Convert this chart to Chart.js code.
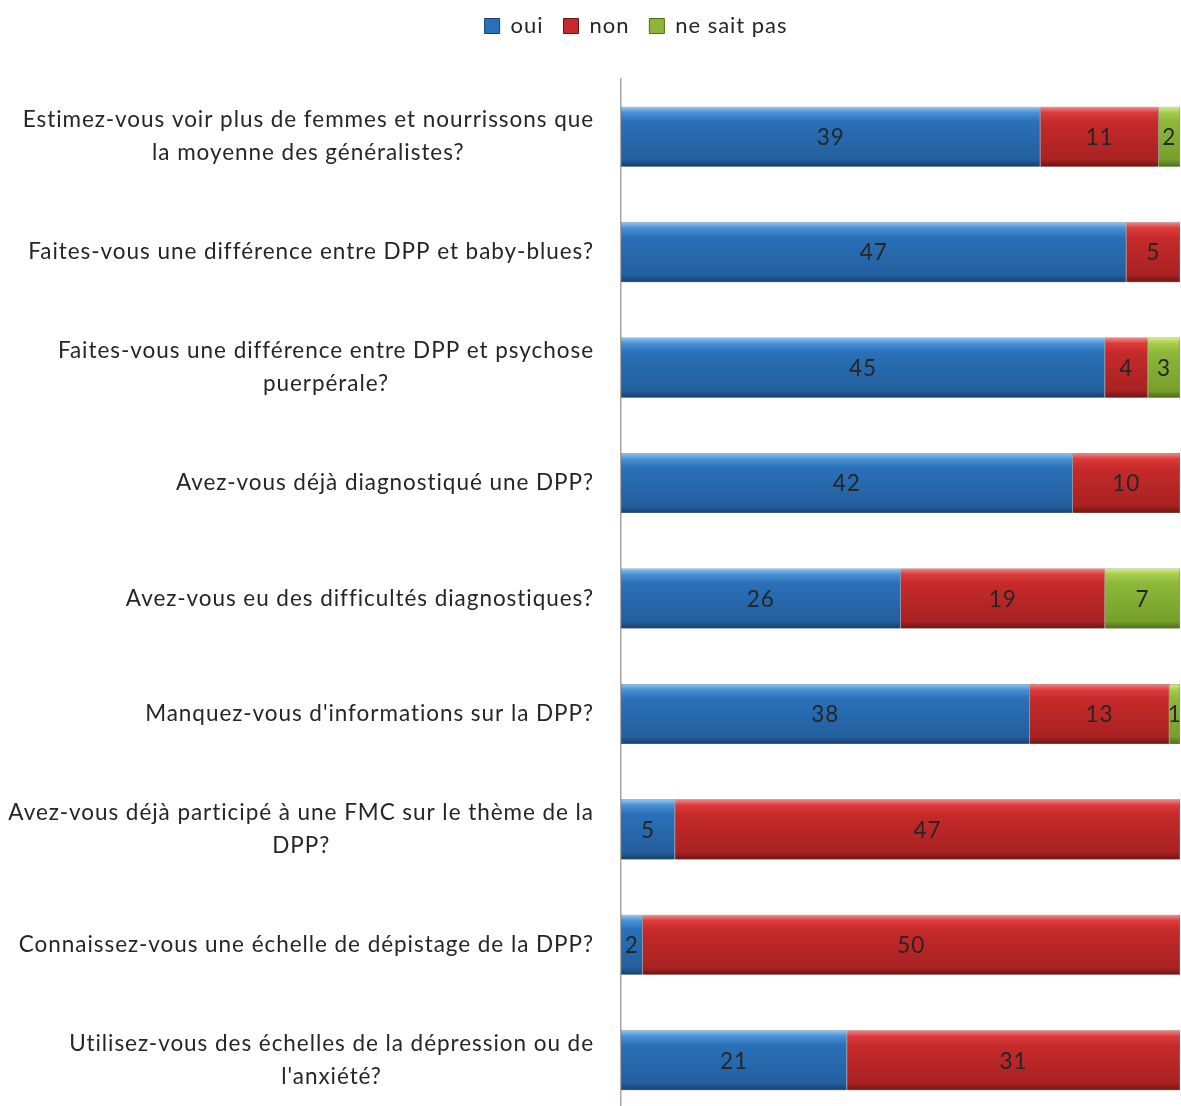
<!DOCTYPE html>
<html>
<head>
<meta charset="utf-8">
<script src="https://cdn.jsdelivr.net/npm/chart.js@4/dist/chart.umd.min.js"></script>
<style>
html,body{margin:0;padding:0;background:#fff;overflow:hidden;}
#wrap{width:1181px;height:1118px;}
</style>
</head>
<body>
<div id="wrap"><canvas id="c" width="1181" height="1118"></canvas></div>
<script>
const categories = [
  ["Estimez-vous voir plus de femmes et nourrissons que", "la moyenne des généralistes?"],
  ["Faites-vous une différence entre DPP et baby-blues?"],
  ["Faites-vous une différence entre DPP et psychose", "puerpérale?"],
  ["Avez-vous déjà diagnostiqué une DPP?"],
  ["Avez-vous eu des difficultés diagnostiques?"],
  ["Manquez-vous d'informations sur la DPP?"],
  ["Avez-vous déjà participé à une FMC sur le thème de la", "DPP?"],
  ["Connaissez-vous une échelle de dépistage de la DPP?"],
  ["Utilisez-vous des échelles de la dépression ou de", "l'anxiété?"]
];
const seriesNames = ["oui", "non", "ne sait pas"];
const ouiValues = [39, 47, 45, 42, 26, 38, 5, 2, 21];
const nonValues = [11, 5, 4, 10, 19, 13, 47, 50, 31];
const nspValues = [2, 0, 3, 0, 7, 1, 0, 0, 0];

const FONT = "Lato, 'Open Sans', sans-serif";
const FSIZE = 22.5;
const TEXT = '#262626';
const SPACING = '0.95px';

const palettes = [
  {light:'#92caf0', hi:'#4a90d4', main:'#2a70b8', low:'#235f9e', dark:'#173f6b'},
  {light:'#f08a8a', hi:'#dc3b3b', main:'#c62a2a', low:'#a82222', dark:'#6e1414'},
  {light:'#d6ec8a', hi:'#a6cc4a', main:'#8cb83a', low:'#76a02c', dark:'#4e6e1a'}
];

function barGradient(pal) {
  return function(ctx) {
    const chart = ctx.chart;
    const y = chart.scales && chart.scales.y;
    if (!y || ctx.dataIndex === undefined) return pal.main;
    const c = y.getPixelForValue(ctx.dataIndex);
    const half = (y.height / categories.length) * 0.52 / 2;
    const g = chart.ctx.createLinearGradient(0, c - half, 0, c + half);
    g.addColorStop(0, pal.light);
    g.addColorStop(0.1, pal.hi);
    g.addColorStop(0.25, pal.main);
    g.addColorStop(0.88, pal.low);
    g.addColorStop(1, pal.dark);
    return g;
  };
}

const spacingPlugin = {
  id: 'spacing',
  beforeUpdate(chart) { chart.ctx.letterSpacing = SPACING; },
  beforeDraw(chart) { chart.ctx.letterSpacing = SPACING; }
};

const shadowPlugin = {
  id: 'shadow',
  beforeDatasetsDraw(chart) {
    const ctx = chart.ctx;
    ctx.save();
    ctx.shadowColor = 'rgba(0,0,0,0.3)';
    ctx.shadowBlur = 4;
    ctx.shadowOffsetY = 3;
  },
  afterDatasetsDraw(chart) {
    chart.ctx.restore();
  }
};

const labelPlugin = {
  id: 'catLabels',
  afterDraw(chart) {
    const y = chart.scales.y;
    const ctx = chart.ctx;
    ctx.save();
    ctx.letterSpacing = SPACING;
    ctx.font = FSIZE + "px " + FONT;
    ctx.fillStyle = TEXT;
    ctx.textBaseline = 'middle';
    ctx.textAlign = 'center';
    const rightEdge = chart.chartArea.left - 27;
    const lh = 33;
    categories.forEach((lines, i) => {
      const cy = y.getPixelForValue(i);
      const w = Math.max(...lines.map(l => ctx.measureText(l).width));
      const cx = rightEdge - w / 2;
      const start = cy - (lines.length - 1) * lh / 2;
      lines.forEach((l, k) => ctx.fillText(l, cx, start + k * lh));
    });
    ctx.restore();
  }
};

const valuePlugin = {
  id: 'values',
  afterDraw(chart) {
    const ctx = chart.ctx;
    ctx.save();
    ctx.letterSpacing = SPACING;
    ctx.font = FSIZE + "px " + FONT;
    ctx.fillStyle = TEXT;
    ctx.textAlign = 'center';
    ctx.textBaseline = 'middle';
    chart.data.datasets.forEach((ds, di) => {
      const meta = chart.getDatasetMeta(di);
      meta.data.forEach((bar, i) => {
        const v = ds.data[i];
        if (!v) return;
        const p = bar.getProps(['x', 'base', 'y'], true);
        ctx.fillText(String(v), (p.x + p.base) / 2, p.y + 1);
      });
    });
    ctx.restore();
  }
};

const legendSpace = {
  id: 'legendSpace',
  beforeInit(chart) {
    const lg = chart.legend;
    if (!lg) return;
    const orig = lg.fit;
    lg.fit = function() { orig.call(this); this.height = 84; };
  }
};

new Chart(document.getElementById('c'), {
  type: 'bar',
  data: {
    labels: categories,
    datasets: [
      {label: seriesNames[0], data: ouiValues, backgroundColor: barGradient(palettes[0]), borderColor: '#1d4f86', borderWidth: 0.5, borderSkipped: false},
      {label: seriesNames[1], data: nonValues, backgroundColor: barGradient(palettes[1]), borderColor: '#7a1616', borderWidth: 0.5, borderSkipped: false},
      {label: seriesNames[2], data: nspValues, backgroundColor: barGradient(palettes[2]), borderColor: '#4e6e1a', borderWidth: 0.5, borderSkipped: false}
    ]
  },
  options: {
    indexAxis: 'y',
    responsive: false,
    animation: false,
    devicePixelRatio: 1,
    categoryPercentage: 0.52,
    barPercentage: 1,
    layout: {padding: {left: 92, right: 1, top: -5, bottom: 0}},
    plugins: {
      legend: {
        position: 'top',
        labels: {
          color: TEXT,
          font: {family: FONT, size: 22},
          boxWidth: 15, boxHeight: 15,
          padding: 20,
          generateLabels(chart) {
            return chart.data.datasets.map((ds, i) => ({
              text: ds.label,
              fillStyle: palettes[i].main,
              strokeStyle: palettes[i].dark,
              lineWidth: 1,
              datasetIndex: i,
              fontColor: TEXT
            }));
          }
        }
      },
      tooltip: {enabled: false}
    },
    scales: {
      x: {stacked: true, min: 0, max: 52, display: false},
      y: {
        stacked: true,
        ticks: {display: false},
        grid: {display: false},
        border: {display: true, color: '#a6a6a6', width: 1.5},
        afterFit(scale) { scale.width = 529; }
      }
    }
  },
  plugins: [spacingPlugin, legendSpace, shadowPlugin, labelPlugin, valuePlugin]
});
</script>
</body>
</html>
